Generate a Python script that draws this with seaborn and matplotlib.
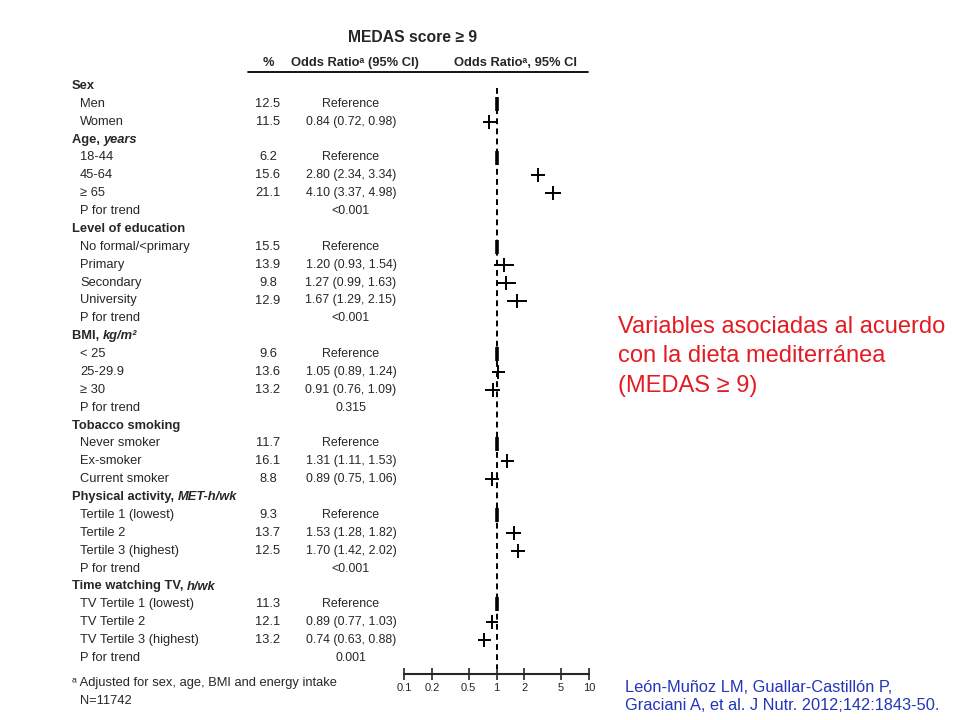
import numpy as np
import pandas as pd
import matplotlib
matplotlib.use("Agg")
import matplotlib.pyplot as plt
import seaborn as sns

sns.set_style("white")
plt.rcParams["font.family"] = ["Liberation Sans", "DejaVu Sans"]

# DATA
row_labels = ["Sex", "Men", "Women",
              "Age, |years", "18-44", "45-64", "\u2265 65", "P for trend",
              "Level of education", "No formal/<primary", "Primary", "Secondary", "University", "P for trend",
              "BMI, |kg/m\u00b2", "< 25", "25-29.9", "\u2265 30", "P for trend",
              "Tobacco smoking", "Never smoker", "Ex-smoker", "Current smoker",
              "Physical activity, |MET-h/wk", "Tertile 1 (lowest)", "Tertile 2", "Tertile 3 (highest)", "P for trend",
              "Time watching TV, |h/wk", "TV Tertile 1 (lowest)", "TV Tertile 2", "TV Tertile 3 (highest)", "P for trend"]
is_header = [True, False, False,
             True, False, False, False, False,
             True, False, False, False, False, False,
             True, False, False, False, False,
             True, False, False, False,
             True, False, False, False, False,
             True, False, False, False, False]
pct = ["", "12.5", "11.5",
       "", "6.2", "15.6", "21.1", "",
       "", "15.5", "13.9", "9.8", "12.9", "",
       "", "9.6", "13.6", "13.2", "",
       "", "11.7", "16.1", "8.8",
       "", "9.3", "13.7", "12.5", "",
       "", "11.3", "12.1", "13.2", ""]
or_text = ["", "Reference", "0.84 (0.72, 0.98)",
           "", "Reference", "2.80 (2.34, 3.34)", "4.10 (3.37, 4.98)", "<0.001",
           "", "Reference", "1.20 (0.93, 1.54)", "1.27 (0.99, 1.63)", "1.67 (1.29, 2.15)", "<0.001",
           "", "Reference", "1.05 (0.89, 1.24)", "0.91 (0.76, 1.09)", "0.315",
           "", "Reference", "1.31 (1.11, 1.53)", "0.89 (0.75, 1.06)",
           "", "Reference", "1.53 (1.28, 1.82)", "1.70 (1.42, 2.02)", "<0.001",
           "", "Reference", "0.89 (0.77, 1.03)", "0.74 (0.63, 0.88)", "0.001"]
or_est = [np.nan, 1.0, 0.84,
          np.nan, 1.0, 2.80, 4.10, np.nan,
          np.nan, 1.0, 1.20, 1.27, 1.67, np.nan,
          np.nan, 1.0, 1.05, 0.91, np.nan,
          np.nan, 1.0, 1.31, 0.89,
          np.nan, 1.0, 1.53, 1.70, np.nan,
          np.nan, 1.0, 0.89, 0.74, np.nan]
ci_low = [np.nan, np.nan, 0.72,
          np.nan, np.nan, 2.34, 3.37, np.nan,
          np.nan, np.nan, 0.93, 0.99, 1.29, np.nan,
          np.nan, np.nan, 0.89, 0.76, np.nan,
          np.nan, np.nan, 1.11, 0.75,
          np.nan, np.nan, 1.28, 1.42, np.nan,
          np.nan, np.nan, 0.77, 0.63, np.nan]
ci_high = [np.nan, np.nan, 0.98,
           np.nan, np.nan, 3.34, 4.98, np.nan,
           np.nan, np.nan, 1.54, 1.63, 2.15, np.nan,
           np.nan, np.nan, 1.24, 1.09, np.nan,
           np.nan, np.nan, 1.53, 1.06,
           np.nan, np.nan, 1.82, 2.02, np.nan,
           np.nan, np.nan, 1.03, 0.88, np.nan]
x_ticks = [0.1, 0.2, 0.5, 1, 2, 5, 10]

df = pd.DataFrame({"label": row_labels, "header": is_header, "pct": pct, "or_text": or_text,
                   "est": or_est, "lo": ci_low, "hi": ci_high})
df["y"] = 86 + np.arange(len(df)) * 17.875
df["ref"] = df["or_text"] == "Reference"

# FIGURE: background axes in pixel coords
fig = plt.figure(figsize=(9.6, 7.2), dpi=100)
bg = fig.add_axes([0, 0, 1, 1])
bg.set_xlim(0, 960)
bg.set_ylim(720, 0)
bg.axis("off")

fs = 9.3
bg.text(413, 38, "MEDAS score \u2265 9", fontsize=11.3, fontweight="bold", ha="center", va="center")
bg.text(268, 63, "%", fontsize=fs, fontweight="bold", ha="center", va="center")
bg.text(355, 63, "Odds Ratio\u1d43 (95% CI)", fontsize=fs, fontweight="bold", ha="center", va="center")
bg.text(515, 63, "Odds Ratio\u1d43, 95% CI", fontsize=fs, fontweight="bold", ha="center", va="center")
bg.plot([248, 588], [72, 72], color="black", lw=1.3)

fig.canvas.draw()
renderer = fig.canvas.get_renderer()
for _, r in df.iterrows():
    if r["header"]:
        parts = r["label"].split("|")
        t = bg.text(72, r["y"], parts[0], fontsize=fs, fontweight="bold", va="center")
        if len(parts) > 1:
            bb = t.get_window_extent(renderer)
            x_end = bb.x1  # pixel coords match data coords in x
            bg.text(x_end, r["y"], parts[1], fontsize=fs, fontweight="bold", fontstyle="italic", va="center")
    else:
        bg.text(80, r["y"], r["label"], fontsize=fs, va="center")
    if r["pct"]:
        bg.text(268, r["y"], r["pct"], fontsize=fs, ha="center", va="center")
    if r["or_text"]:
        bg.text(351, r["y"], r["or_text"], fontsize=8.9, ha="center", va="center")

bg.text(72, 683, "\u1d43 Adjusted for sex, age, BMI and energy intake", fontsize=fs, va="center")
bg.text(80, 701, "N=11742", fontsize=fs, va="center")

red = "#E31B23"
for i, line in enumerate(["Variables asociadas al acuerdo", "con la dieta mediterr\u00e1nea", "(MEDAS \u2265 9)"]):
    bg.text(618, 327 + i * 29.5, line, fontsize=17.0, color=red, va="center")
blue = "#2335B8"
bg.text(625, 687, "Le\u00f3n-Mu\u00f1oz LM, Guallar-Castill\u00f3n P,", fontsize=11.8, color=blue, va="center")
bg.text(625, 705, "Graciani A, et al. J Nutr. 2012;142:1843-50.", fontsize=11.8, color=blue, va="center")

# FOREST axes: log x, y in pixel rows
ax = fig.add_axes([404 / 960, 1 - 674 / 720, 185 / 960, (674 - 80) / 720])
ax.set_xscale("log")
ax.set_xlim(0.1, 10)
ax.set_ylim(674, 80)
ax.patch.set_alpha(0)
for s in ["top", "right", "left"]:
    ax.spines[s].set_visible(False)
ax.spines["bottom"].set_linewidth(1.5)
ax.set_yticks([])
ax.set_xticks(x_ticks)
ax.set_xticklabels([f"{t:g}" for t in x_ticks], fontsize=8)
ax.minorticks_off()
ax.tick_params(axis="x", direction="inout", length=9, width=1.2, pad=2, bottom=True)

ax.plot([1, 1], [88, 669], color="black", lw=1.4, linestyle=(0, (3, 2.2)))
est = df.dropna(subset=["lo"])
ax.hlines(est["y"], est["lo"], est["hi"], color="black", lw=1.4)
sns.scatterplot(data=est, x="est", y="y", marker="|", s=110, color="black", linewidth=1.4, ax=ax, zorder=3)
refs = df[df["ref"]]
ax.vlines(refs["est"], refs["y"] - 7, refs["y"] + 7, color="black", lw=2.6)
ax.set_xlabel("")
ax.set_ylabel("")

fig.savefig("out.png", dpi=100)
